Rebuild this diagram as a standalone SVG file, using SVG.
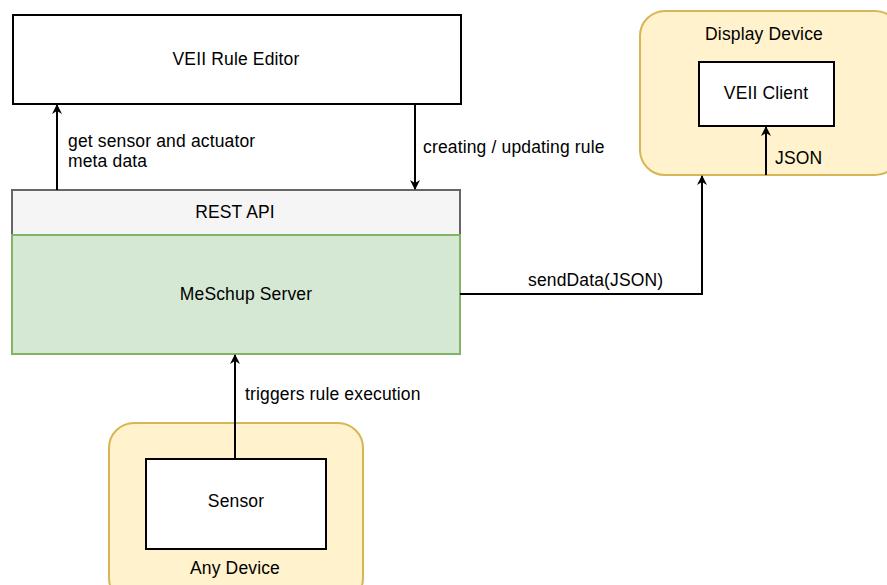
<svg xmlns="http://www.w3.org/2000/svg" width="887" height="585" viewBox="0 0 887 585">
<defs>
<style>
text{font-family:"Liberation Sans",Arial,Helvetica,sans-serif;font-size:17.5px;letter-spacing:0.15px;fill:#000}
.c{text-anchor:middle}
.box{fill:#fff;stroke:#000;stroke-width:2}
.dev{fill:#fff2cc;stroke:#d6b656;stroke-width:2}
.edge{fill:none;stroke:#000;stroke-width:2}
</style>
<marker id="arr" viewBox="0 0 10 10" refX="9" refY="5" markerWidth="10" markerHeight="10" markerUnits="userSpaceOnUse" orient="auto">
<path d="M0,0 L10,5 L0,10 L3,5 Z" fill="#000"/>
</marker>
</defs>
<rect width="887" height="585" fill="#fff"/>
<g id="display-device">
<rect class="dev" x="640" y="11" width="260" height="164" rx="25"/>
<text class="c" x="764" y="40">Display Device</text>
</g>
<g id="any-device">
<rect class="dev" x="109" y="423" width="254" height="180" rx="25"/>
<text class="c" x="235" y="574">Any Device</text>
</g>
<g id="rule-editor">
<rect class="box" x="13" y="15" width="448" height="89"/>
<text class="c" x="236" y="65">VEII Rule Editor</text>
</g>
<g id="rest-api">
<rect x="12" y="190" width="448" height="45" fill="#f5f5f5" stroke="#666" stroke-width="2"/>
<text class="c" x="235" y="218">REST API</text>
</g>
<g id="meschup-server">
<rect x="12" y="235" width="448" height="119" fill="#d5e8d4" stroke="#82b366" stroke-width="2"/>
<text class="c" x="246" y="300">MeSchup Server</text>
</g>
<g id="veii-client">
<rect class="box" x="699" y="62" width="135" height="64"/>
<text class="c" x="766" y="99">VEII Client</text>
</g>
<g id="sensor">
<rect class="box" x="146" y="459" width="180" height="90"/>
<text class="c" x="236" y="507">Sensor</text>
</g>
<g id="connectors">
<path class="edge" d="M57,190 V105" marker-end="url(#arr)"/>
<text x="68" y="147">get sensor and actuator</text>
<text x="68" y="167">meta data</text>
<path class="edge" d="M415,104 V189" marker-end="url(#arr)"/>
<text x="423" y="153">creating / updating rule</text>
<path class="edge" d="M460,294 H702 V176" marker-end="url(#arr)"/>
<text x="528" y="286">sendData(JSON)</text>
<path class="edge" d="M766,175 V127" marker-end="url(#arr)"/>
<text x="775" y="164">JSON</text>
<path class="edge" d="M235,459 V355" marker-end="url(#arr)"/>
<text x="245" y="400">triggers rule execution</text>
</g>
</svg>
